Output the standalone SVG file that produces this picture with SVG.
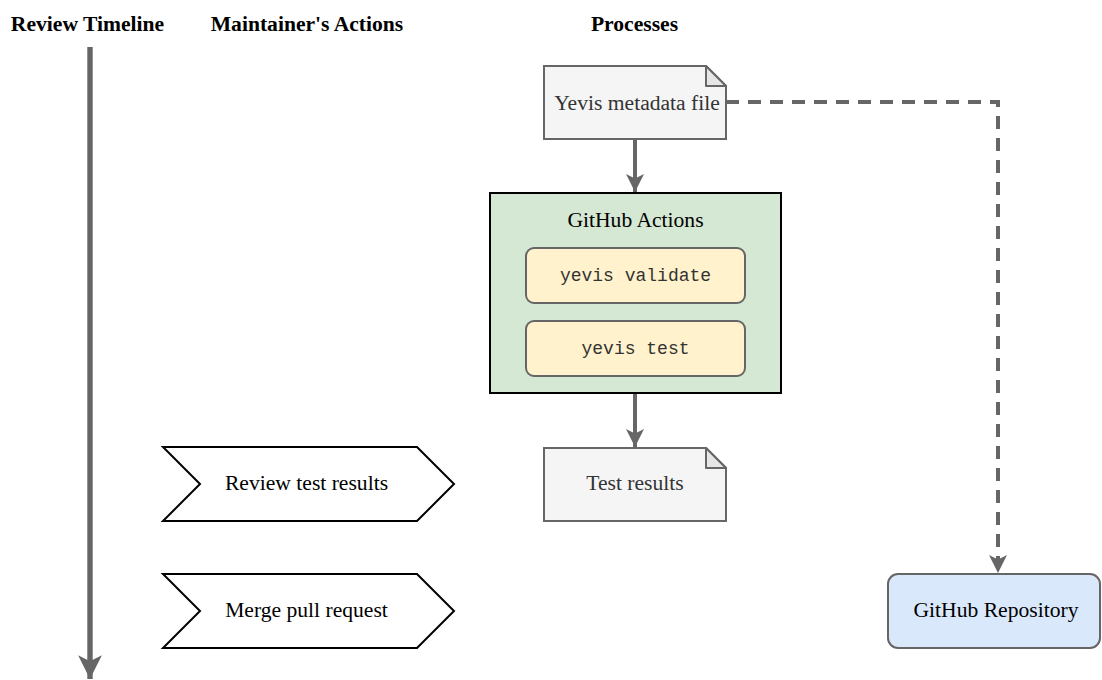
<svg xmlns="http://www.w3.org/2000/svg" width="1102" height="680" viewBox="0 0 1102 680">
<style>
.hdr{font-family:"Liberation Serif","Times New Roman",serif;font-weight:bold;font-size:21.6px;fill:#000;text-anchor:middle}
.lbl{font-family:"Liberation Serif","Times New Roman",serif;font-size:21.6px;text-anchor:middle}
.mono{font-family:"Liberation Mono","Courier New",monospace;font-size:18px;fill:#333;text-anchor:middle}
.doc{fill:#f5f5f5;stroke:#666;stroke-width:2}
.fold{fill:#e6e6e6;stroke:#666;stroke-width:2;stroke-linejoin:round}
.cmd{fill:#fff2cc;stroke:#666;stroke-width:2}
.chev{fill:#fff;stroke:#000;stroke-width:2}
.conn{fill:none;stroke:#666;stroke-width:4}
</style>
<defs>
<marker id="ah" viewBox="0 0 10 10" refX="10" refY="5" markerWidth="4.5" markerHeight="4.5" orient="auto" markerUnits="strokeWidth">
<path d="M0,0 L10,5 L0,10 L2.5,5 Z" fill="#666"/>
</marker>
<marker id="ahT" viewBox="0 0 10 10" refX="10" refY="5" markerWidth="4.4" markerHeight="4.4" orient="auto" markerUnits="strokeWidth">
<path d="M0,0 L10,5 L0,10 L2.5,5 Z" fill="#666"/>
</marker>
</defs>
<rect width="1102" height="680" fill="#fff"/>
<g id="headers">
<text class="hdr" x="87.5" y="31">Review Timeline</text>
<text class="hdr" x="307" y="31">Maintainer's Actions</text>
<text class="hdr" x="634.5" y="31">Processes</text>
</g>
<g id="connectors">
<line x1="90" y1="47" x2="90" y2="679" stroke="#666" stroke-width="5.4" marker-end="url(#ahT)"/>
<line class="conn" x1="635" y1="139" x2="635" y2="192" marker-end="url(#ah)"/>
<line class="conn" x1="635" y1="393" x2="635" y2="447" marker-end="url(#ah)"/>
<path class="conn" d="M726,102 L998,102 L998,573" stroke-dasharray="13 9" marker-end="url(#ah)"/>
</g>
<g id="metadata">
<path class="doc" d="M544,66 L706,66 L726,86 L726,139 L544,139 Z"/>
<path class="fold" d="M706,66 L706,86 L726,86 Z"/>
<text class="lbl" x="637" y="110" fill="#333">Yevis metadata file</text>
</g>
<g id="actions">
<rect x="490" y="193" width="291" height="200" fill="#d5e8d4" stroke="#000" stroke-width="2"/>
<text class="lbl" x="635.5" y="227" fill="#000">GitHub Actions</text>
</g>
<g id="validate">
<rect class="cmd" x="526" y="248" width="219" height="55" rx="8"/>
<text class="mono" x="635.5" y="281">yevis validate</text>
</g>
<g id="test">
<rect class="cmd" x="526" y="321" width="219" height="55" rx="8"/>
<text class="mono" x="635.5" y="354">yevis test</text>
</g>
<g id="results">
<path class="doc" d="M544,448 L706,448 L726,468 L726,521 L544,521 Z"/>
<path class="fold" d="M706,448 L706,468 L726,468 Z"/>
<text class="lbl" x="635" y="490" fill="#333">Test results</text>
</g>
<g id="review">
<path class="chev" d="M163,447 L417,447 L454,484 L417,521 L163,521 L200,484 Z"/>
<text class="lbl" x="306.5" y="490" fill="#000">Review test results</text>
</g>
<g id="merge">
<path class="chev" d="M163,574 L417,574 L454,611 L417,648 L163,648 L200,611 Z"/>
<text class="lbl" x="306.5" y="617" fill="#000">Merge pull request</text>
</g>
<g id="repo">
<rect x="888" y="574" width="212" height="74" rx="10" fill="#dae8fc" stroke="#666" stroke-width="2"/>
<text class="lbl" x="996" y="617" fill="#000">GitHub Repository</text>
</g>
</svg>
